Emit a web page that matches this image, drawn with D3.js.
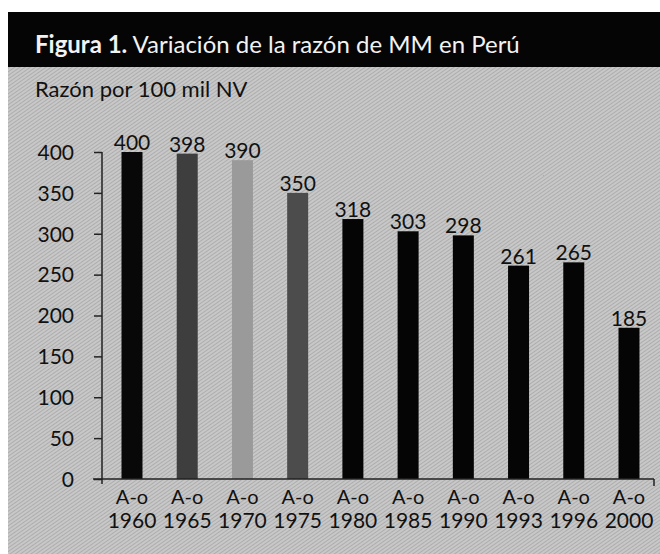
<!DOCTYPE html>
<html><head><meta charset="utf-8">
<script src="https://cdn.jsdelivr.net/npm/d3@7/dist/d3.min.js"></script>
<style>
body{margin:0;background:#fff;}
svg{display:block;font-family:Lato,"Open Sans",sans-serif;}
</style></head>
<body>
<svg id="c" width="660" height="554"></svg>
<script>
const categories = ["1960","1965","1970","1975","1980","1985","1990","1993","1996","2000"];
const values = [400,398,390,350,318,303,298,261,265,185];
const barColors = ["#080808","#3e3e3e","#9a9a9a","#4c4c4c","#050505","#050505","#050505","#050505","#050505","#050505"];
const yTicks = [0,50,100,150,200,250,300,350,400];
const titleBold = "Figura 1.";
const titleRest = " Variación de la razón de MM en Perú";
const yTitle = "Razón por 100 mil NV";
const catPrefix = "A-o";

const svg = d3.select("#c");
const defs = svg.append("defs");
const pat = defs.append("pattern").attr("id","hatch").attr("patternUnits","userSpaceOnUse")
  .attr("width",3).attr("height",3).attr("patternTransform","rotate(-35)");
pat.append("rect").attr("width",3).attr("height",3).attr("fill","#c8c8c8");
pat.append("rect").attr("width",3).attr("height",1).attr("fill","#adadad");

// panel
svg.append("rect").attr("x",8).attr("y",67).attr("width",652).attr("height",487).attr("fill","url(#hatch)");
// header
svg.append("rect").attr("x",8).attr("y",12).attr("width",652).attr("height",55).attr("fill","#050505");
const t = svg.append("text").attr("x",35).attr("y",53).attr("fill","#f2f2f2").attr("font-size",24);
t.append("tspan").attr("font-weight","bold").text(titleBold);
t.append("tspan").text(titleRest);

svg.append("text").attr("x",35).attr("y",97).attr("font-size",22).attr("fill","#111").text(yTitle);

const x = d3.scalePoint().domain(categories).range([132,629]);
const y = d3.scaleLinear().domain([0,400]).range([479,152]);
const bw = 21;

// bars
svg.append("g").selectAll("rect").data(values).join("rect")
  .attr("x",(d,i)=>x(categories[i])-bw/2).attr("width",bw)
  .attr("y",d=>y(d)).attr("height",d=>y(0)-y(d))
  .attr("fill",(d,i)=>barColors[i]);

// y axis
const ya = svg.append("g").attr("transform","translate(102,0)")
  .call(d3.axisLeft(y).tickValues(yTicks).tickSize(8).tickPadding(20).tickSizeOuter(0));
ya.select(".domain").remove();
ya.selectAll(".tick line").attr("stroke","#222").attr("stroke-width",1.5);
ya.selectAll(".tick text").attr("font-size",21).attr("font-family","Lato").attr("fill","#111").attr("dy","0.35em");
svg.append("line").attr("x1",102).attr("x2",102).attr("y1",y(400)).attr("y2",484).attr("stroke","#222").attr("stroke-width",1.5);

// x axis
svg.append("line").attr("x1",93).attr("x2",654).attr("y1",y(0)).attr("y2",y(0)).attr("stroke","#222").attr("stroke-width",1.5);
svg.append("line").attr("x1",654).attr("x2",654).attr("y1",y(0)).attr("y2",486).attr("stroke","#222").attr("stroke-width",1.5);

const xl = svg.append("g").selectAll("g").data(categories).join("g");
xl.append("text").attr("x",d=>x(d)).attr("y",504).attr("text-anchor","middle").attr("font-size",20).attr("fill","#111").text(catPrefix);
xl.append("text").attr("x",d=>x(d)).attr("y",528).attr("text-anchor","middle").attr("font-size",21).attr("fill","#111").text(d=>d);

// value labels
svg.append("g").selectAll("text").data(values).join("text")
  .attr("x",(d,i)=>x(categories[i])).attr("y",d=>y(d)-2)
  .attr("text-anchor","middle").attr("font-size",21).attr("fill","#111").text(d=>d);
</script>
</body></html>
